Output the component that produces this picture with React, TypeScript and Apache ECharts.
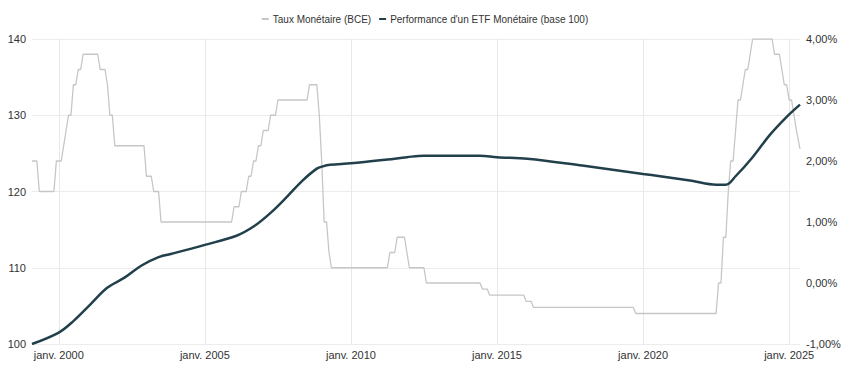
import React, { useEffect, useRef } from "react";
import * as echarts from "echarts";

const SERIES_RATE = "Taux Monétaire (BCE)";
const SERIES_ETF = "Performance d'un ETF Monétaire (base 100)";

// ECB deposit facility rate (%) — polyline vertices
const rateDates = [
  "1999-02-01", "1999-04-01", "1999-05-01", "1999-11-01", "1999-12-01",
  "2000-02-01", "2000-03-01", "2000-04-01", "2000-05-01", "2000-06-01",
  "2000-07-01", "2000-08-01", "2000-09-01", "2000-10-01", "2000-11-01",
  "2001-05-01", "2001-06-01", "2001-08-01", "2001-09-01", "2001-10-01",
  "2001-11-01", "2001-12-01", "2002-12-01", "2003-01-01", "2003-03-01",
  "2003-04-01", "2003-06-01", "2003-07-01", "2005-12-01", "2006-01-01",
  "2006-03-01", "2006-04-01", "2006-06-01", "2006-07-01", "2006-08-01",
  "2006-09-01", "2006-10-01", "2006-11-01", "2006-12-01", "2007-01-01",
  "2007-03-01", "2007-04-01", "2007-06-01", "2007-07-01", "2008-07-01",
  "2008-08-01", "2008-10-01", "2008-11-01", "2008-12-01", "2009-01-01",
  "2009-02-01", "2009-03-01", "2009-04-01", "2009-05-01", "2011-04-01",
  "2011-05-01", "2011-07-01", "2011-08-01", "2011-11-01", "2011-12-01",
  "2012-01-01", "2012-07-01", "2012-08-01", "2014-06-01", "2014-07-01",
  "2014-09-01", "2014-10-01", "2015-12-01", "2016-01-01", "2016-03-01",
  "2016-04-01", "2019-09-01", "2019-10-01", "2022-07-01", "2022-08-01",
  "2022-09-01", "2022-10-01", "2022-11-01", "2022-12-01", "2023-01-01",
  "2023-02-01", "2023-03-01", "2023-04-01", "2023-05-01", "2023-06-01",
  "2023-07-01", "2023-08-01", "2023-09-01", "2023-10-01", "2024-06-01",
  "2024-07-01", "2024-09-01", "2024-10-01", "2024-11-01", "2024-12-01",
  "2025-01-01", "2025-02-01", "2025-03-01", "2025-04-01", "2025-05-15",
];
const rateValues = [
  2.0, 2.0, 1.5, 1.5, 2.0,
  2.0, 2.25, 2.5, 2.75, 2.75,
  3.25, 3.25, 3.5, 3.5, 3.75,
  3.75, 3.5, 3.5, 3.25, 2.75,
  2.75, 2.25, 2.25, 1.75, 1.75,
  1.5, 1.5, 1.0, 1.0, 1.25,
  1.25, 1.5, 1.5, 1.75, 1.75,
  2.0, 2.0, 2.25, 2.25, 2.5,
  2.5, 2.75, 2.75, 3.0, 3.0,
  3.25, 3.25, 3.25, 2.75, 2.0,
  1.0, 1.0, 0.5, 0.25, 0.25,
  0.5, 0.5, 0.75, 0.75, 0.5,
  0.25, 0.25, 0.0, 0.0, -0.1,
  -0.1, -0.2, -0.2, -0.3, -0.3,
  -0.4, -0.4, -0.5, -0.5, 0.0,
  0.0, 0.75, 0.75, 1.5, 2.0,
  2.0, 2.5, 3.0, 3.0, 3.25,
  3.5, 3.5, 3.75, 4.0, 4.0,
  3.75, 3.75, 3.5, 3.25, 3.25,
  3.0, 3.0, 2.75, 2.5, 2.2,
];

// Money-market ETF performance (base 100)
const etfDates = [
  "1999-02-01", "2000-01-01", "2000-07-01", "2001-02-01", "2001-09-01",
  "2002-04-01", "2002-11-01", "2003-06-01", "2003-11-01", "2005-01-01",
  "2006-02-01", "2006-09-01", "2007-04-01", "2007-11-01", "2008-05-01",
  "2008-11-01", "2009-01-15", "2009-04-15", "2010-01-01", "2011-04-01",
  "2011-12-01", "2012-07-01", "2014-06-01", "2015-01-01", "2016-01-15",
  "2017-12-01", "2020-01-01", "2020-08-01", "2021-09-01", "2022-07-01",
  "2022-11-01", "2023-03-01", "2023-10-01", "2024-05-01", "2024-12-01",
  "2025-05-15",
];
const etfValues = [
  100.0, 101.5, 103.0, 105.2, 107.4,
  108.7, 110.3, 111.4, 111.8, 113.0,
  114.2, 115.4, 117.2, 119.4, 121.4,
  123.0, 123.3, 123.5, 123.7, 124.2,
  124.5, 124.7, 124.7, 124.5, 124.3,
  123.4, 122.3, 122.0, 121.4, 120.9,
  120.9, 122.0, 124.5, 127.4, 129.8,
  131.4,
];

const xRange = { start: "1999-02-01", end: "2025-05-15" };
const leftTicks = { min: 100, max: 140, interval: 10 };
const rightTicks = { min: -1, max: 4, interval: 1 };
const xLabelYears = [2000, 2005, 2010, 2015, 2020, 2025];

const FONT = "'Liberation Sans', Arial, Helvetica, sans-serif";

// date string -> decimal year (position on the value x-axis)
function toYear(d: string): number {
  const [y, m, day] = d.split("-").map(Number);
  return y + (m - 1) / 12 + ((day || 1) - 1) / 365;
}

export default function App() {
  const ref = useRef<HTMLDivElement>(null);

  useEffect(() => {
    document.body.style.margin = "0";
    if (!ref.current) return;
    const chart = echarts.init(ref.current, undefined, { renderer: "svg" });
    chart.setOption({
      animation: false,
      textStyle: { fontFamily: FONT },
      legend: {
        top: 9,
        left: "center",
        itemGap: 8,
        itemWidth: 7,
        itemHeight: 2,
        icon: "rect",
        textStyle: { fontSize: 10, color: "#333", fontFamily: FONT, padding: [0, 0, 0, -1] },
        data: [SERIES_RATE, SERIES_ETF],
      },
      grid: { left: 32, right: 50, top: 39, bottom: 26 },
      xAxis: {
        type: "value",
        min: toYear(xRange.start),
        max: toYear(xRange.end),
        axisLine: { show: false },
        axisTick: { show: false, customValues: xLabelYears },
        axisLabel: {
          customValues: xLabelYears,
          margin: 5,
          fontSize: 11,
          color: "#333",
          fontFamily: FONT,
          formatter: (v: number) => "janv. " + Math.round(v),
        },
        splitLine: { show: true, lineStyle: { color: "#e8e8e8", width: 1 } },
      },
      yAxis: [
        {
          type: "value",
          ...leftTicks,
          position: "left",
          axisLine: { show: false },
          axisTick: { show: false },
          axisLabel: { margin: 6, fontSize: 11, color: "#333", fontFamily: FONT },
          splitLine: { show: true, lineStyle: { color: "#ececec", width: 1 } },
        },
        {
          type: "value",
          ...rightTicks,
          position: "right",
          axisLine: { show: false },
          axisTick: { show: false },
          axisLabel: {
            margin: 6,
            fontSize: 11,
            color: "#333",
            fontFamily: FONT,
            formatter: (v: number) => v.toFixed(2).replace(".", ",") + "%",
          },
          splitLine: { show: false },
        },
      ],
      series: [
        {
          name: SERIES_RATE,
          type: "line",
          yAxisIndex: 1,
          showSymbol: false,
          symbol: "none",
          color: "#c6c6c6",
          lineStyle: { color: "#c6c6c6", width: 1.3 },
          data: rateDates.map((d, i) => [toYear(d), rateValues[i]]),
          z: 2,
        },
        {
          name: SERIES_ETF,
          type: "line",
          yAxisIndex: 0,
          showSymbol: false,
          symbol: "none",
          smooth: 0.35,
          color: "#21404b",
          lineStyle: { color: "#21404b", width: 2.5 },
          data: etfDates.map((d, i) => [toYear(d), etfValues[i]]),
          z: 3,
        },
      ],
    });
    return () => chart.dispose();
  }, []);

  return <div ref={ref} style={{ width: 850, height: 370 }} />;
}
